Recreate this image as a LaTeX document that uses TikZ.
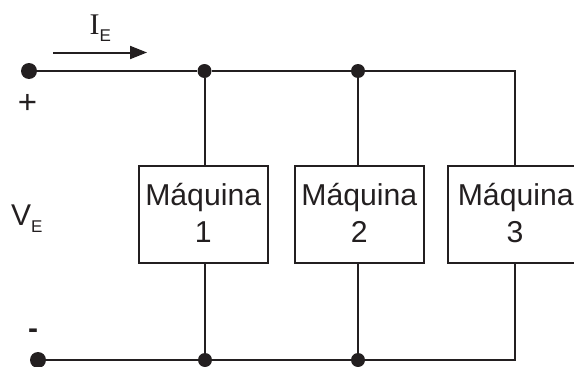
\documentclass[tikz,border=0pt]{standalone}
\usepackage{fontspec}
\setmainfont{Liberation Sans}
\newfontfamily\serifface{Liberation Serif}
\usetikzlibrary{arrows.meta}
\definecolor{ink}{HTML}{231F20}
\tikzset{
  x=1pt,y=-1pt,
  wire/.style={draw=ink,line width=2pt,line join=miter},
  machine/.style={draw=ink,line width=2pt,minimum width=129pt,minimum height=97.5pt,inner sep=0pt,align=center,text=ink,font=\fontsize{30.2}{37.5}\selectfont},
  bigdot/.style={circle,fill=ink,inner sep=0pt,minimum size=16pt},
  smalldot/.style={circle,fill=ink,inner sep=0pt,minimum size=14pt},
  lbl/.style={inner sep=0pt,text=ink,font=\fontsize{30}{36}\selectfont,anchor=base west},
}
\newcommand{\subE}{\raisebox{-7.5pt}{\fontsize{17}{20}\selectfont E}}
\newcommand{\up}[1]{\raisebox{3pt}{#1}}
\begin{document}
\begin{tikzpicture}
\useasboundingbox (0,0) rectangle (574,367);
\node[bigdot] (plus) at (29,71) {};
\node[bigdot] (minus) at (38,360) {};
\node[smalldot] (t1) at (204.5,71) {};
\node[smalldot] (t2) at (358,71) {};
\node[smalldot] (b1) at (205,360) {};
\node[smalldot] (b2) at (358,360) {};
\coordinate (tc) at (514.5,71);
\coordinate (bc) at (514.5,360);
\node[machine] (m1) at (203.2,214.5) {\up{Máquina}\\\up{1}};
\node[machine] (m2) at (359.3,214.5) {\up{Máquina}\\\up{2}};
\node[machine] (m3) at (512.5,214.5) {\hspace*{6.5pt}\up{Máquina}\\\hspace*{5pt}\up{3}};
\draw[wire] (plus) -- (t1);
\draw[wire] (t1) -- (t2);
\draw[wire] (t2) -- (tc) -- (m3.north -| tc);
\draw[wire] (minus) -- (b1);
\draw[wire] (b1) -- (b2);
\draw[wire] (b2) -- (bc) -- (m3.south -| bc);
\draw[wire] (t1) -- (m1.north -| t1);
\draw[wire] (b1) -- (m1.south -| b1);
\draw[wire] (t2) -- (m2.north -| t2);
\draw[wire] (b2) -- (m2.south -| b2);
\coordinate (as) at (53,52.5);
\coordinate (ae) at (147,52.5);
\draw[wire,-{Triangle[length=17pt,width=13pt,fill=ink]}] (as) -- (ae);
\node[lbl] (ie) at (89.5,34) {{\serifface I}\subE};
\node[lbl] (ve) at (11,225) {V\subE};
\node[lbl,anchor=center,font=\fontsize{33}{36}\selectfont] (pl) at (27.5,104) {+};
\node[lbl,anchor=center] (mi) at (33,334) {\textbf{-}};
\end{tikzpicture}
\end{document}
